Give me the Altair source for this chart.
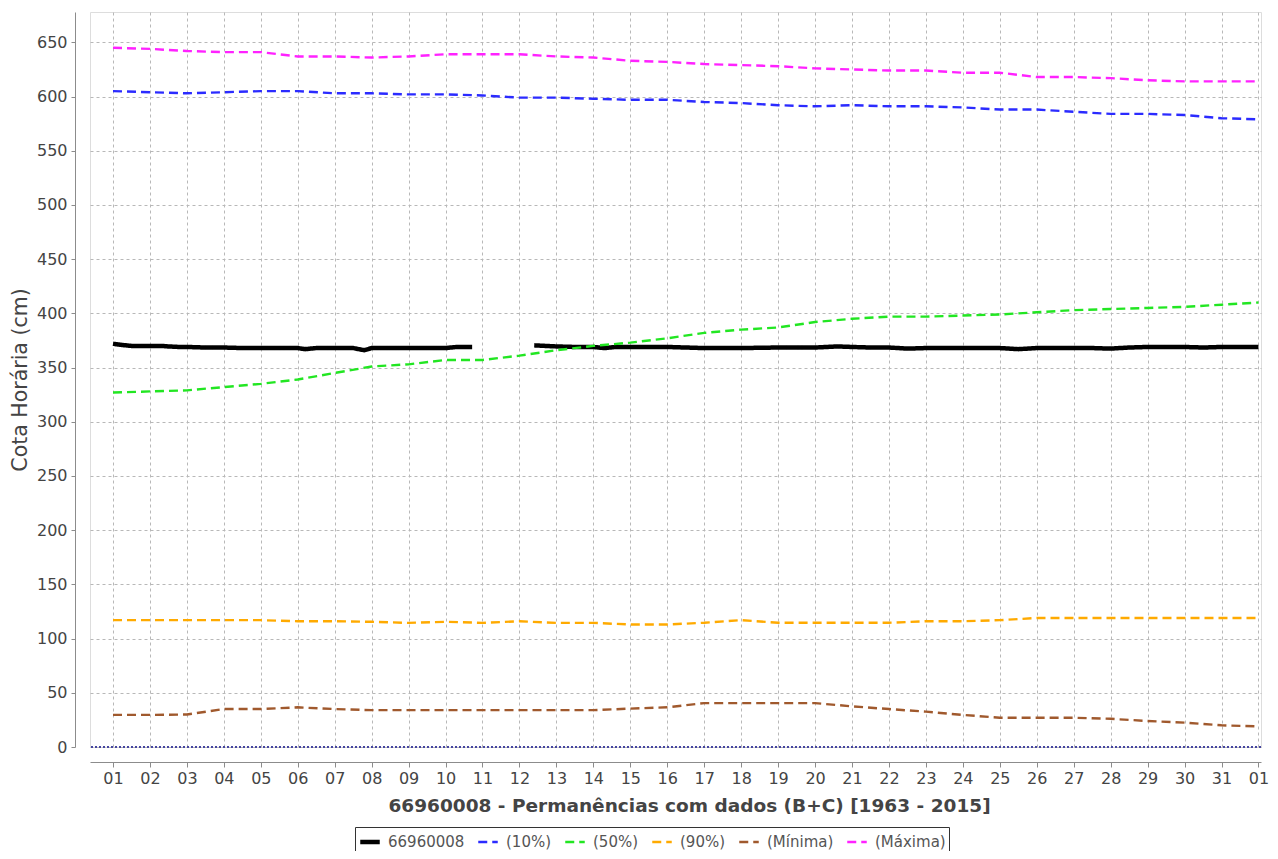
import json
import altair as alt
import pandas as pd

# ---------------- data ----------------
days = list(range(1, 33))
x_labels = ["01", "02", "03", "04", "05", "06", "07", "08", "09", "10",
            "11", "12", "13", "14", "15", "16", "17", "18", "19", "20",
            "21", "22", "23", "24", "25", "26", "27", "28", "29", "30",
            "31", "01"]

p10 = [605, 604, 603, 604, 605, 605, 603, 603, 602, 602, 601, 599, 599, 598, 597, 597,
       595, 594, 592, 591, 592, 591, 591, 590, 588, 588, 586, 584, 584, 583, 580, 579]
p50 = [327, 328, 329, 332, 335, 339, 345, 351, 353, 357, 357, 361, 366, 370, 373, 377,
       382, 385, 387, 392, 395, 397, 397, 398, 399, 401, 403, 404, 405, 406, 408, 410]
p90 = [117, 117, 117, 117, 117, 116, 116, 115.5, 114.5, 115.5, 114.5, 116, 114.5, 114.5, 113, 113,
       114.6, 117, 114.6, 114.6, 114.6, 114.6, 116, 116, 117, 119, 119, 119, 119, 119, 119, 119]
pmin = [29.6, 29.6, 30, 35, 35, 36.6, 35, 34, 34, 34, 34, 34, 34, 34, 35.4, 36.6,
        40.5, 40.5, 40.5, 40.5, 37.5, 35, 32.6, 29.6, 27, 27, 27, 26, 24, 22.5, 20, 19]
pmax = [645, 644, 642, 641, 641, 637, 637, 636, 637, 639, 639, 639, 637, 636, 633, 632,
        630, 629, 628, 626, 625, 624, 624, 622, 622, 618, 618, 617, 615, 614, 614, 614]

# observed station series (two pieces with a gap)
obs1_day = [1.0, 1.2, 1.5, 1.8, 2.0, 2.3, 2.5, 2.8, 3.0, 3.5, 4.0, 4.5, 5.0, 5.5, 6.0,
            6.2, 6.5, 7.0, 7.5, 7.8, 8.0, 8.5, 9.0, 9.5, 10.0, 10.3, 10.72]
obs1_val = [372, 371, 370, 370, 370, 370, 369.5, 369, 369, 368.5, 368.5, 368, 368, 368, 368,
            367, 368, 368, 368, 366, 368, 368, 368, 368, 368, 369, 369]
obs2_day = [12.4, 12.7, 13.0, 13.5, 14.0, 14.3, 14.6, 15.0, 15.5, 16.0, 16.5, 17.0, 18.0,
            19.0, 20.0, 20.6, 21.0, 21.5, 22.0, 22.5, 23.0, 24.0, 25.0, 25.5, 26.0, 27.0,
            27.5, 28.0, 28.5, 29.0, 29.5, 30.0, 30.5, 31.0, 31.5, 32.0]
obs2_val = [370.5, 370, 369.5, 369, 369, 368, 369, 369, 369, 369, 368.5, 368, 368,
            368.5, 368.5, 369.5, 369, 368.5, 368.5, 367.5, 368, 368, 368, 367, 368, 368,
            368, 367.5, 368.5, 369, 369, 369, 368.5, 369, 369, 369]

series_names = ["66960008", "(10%)", "(50%)", "(90%)", "(Mínima)", "(Máxima)"]
series_colors = ["#000000", "#2b2bff", "#22e622", "#ffaa00", "#a0592d", "#ff22ff"]

rows = []
for d, v in zip(obs1_day, obs1_val):
    rows.append({"series": "66960008", "seg": "a", "day": d, "value": v})
for d, v in zip(obs2_day, obs2_val):
    rows.append({"series": "66960008", "seg": "b", "day": d, "value": v})
for name, vals in zip(series_names[1:], [p10, p50, p90, pmin, pmax]):
    for d, v in zip(days, vals):
        rows.append({"series": name, "seg": "a", "day": d, "value": v})
df = pd.DataFrame(rows)

FONT = "DejaVu Sans"
label_expr = json.dumps(x_labels) + "[datum.value - 1]"

x_enc = alt.X(
    "day:Q",
    scale=alt.Scale(domain=[0.3776, 32.069], nice=False, zero=False),
    axis=alt.Axis(
        values=days, labelExpr=label_expr, offset=15, grid=True,
        gridDash=[3, 3], gridColor="#b8b8b8", domainColor="#8c8c8c",
        tickColor="#8c8c8c", tickSize=5, labelFontSize=16, labelColor="#444444",
        labelPadding=3, labelFont=FONT,
        title="66960008 - Permanências com dados (B+C) [1963 - 2015]",
        titleFontSize=18.5, titleFontWeight="bold", titleColor="#444444",
        titlePadding=10, titleFont=FONT, titleX=599,
    ),
)
y_enc = alt.Y(
    "value:Q",
    scale=alt.Scale(domain=[0, 678], nice=False),
    axis=alt.Axis(
        values=list(range(0, 700, 50)), offset=15, grid=True,
        gridDash=[3, 3], gridColor="#b8b8b8", domainColor="#8c8c8c",
        tickColor="#8c8c8c", tickSize=4, labelFontSize=16, labelColor="#444444",
        labelPadding=4, labelFont=FONT,
        title="Cota Horária (cm)", titleFontSize=20.5, titleFontWeight="normal",
        titleColor="#444444", titlePadding=6, titleFont=FONT,
    ),
)

legend = alt.Legend(
    orient="none", legendX=265, legendY=815, direction="horizontal", columns=6,
    title=None, strokeColor="#333333", fillColor="#ffffff", padding=3,
    symbolType="stroke", symbolSize=380, labelFontSize=15, labelColor="#555555",
    labelFont=FONT, columnPadding=8, labelOffset=6,
)

lines = alt.Chart(df).mark_line().encode(
    x=x_enc,
    y=y_enc,
    color=alt.Color("series:N", scale=alt.Scale(domain=series_names, range=series_colors),
                    legend=legend, sort=series_names),
    strokeDash=alt.StrokeDash("series:N",
                              scale=alt.Scale(domain=series_names,
                                              range=[[1, 0], [9, 5], [9, 5], [9, 5], [9, 5], [9, 5]]),
                              legend=legend, sort=series_names),
    strokeWidth=alt.StrokeWidth("series:N",
                                scale=alt.Scale(type="ordinal", domain=series_names,
                                                range=[4.5, 2.4, 2.4, 2.4, 2.4, 2.4]),
                                legend=legend, sort=series_names),
    detail="seg:N",
)

zero_rule = alt.Chart(df).mark_rule(color="#4646a0", strokeDash=[2, 2], strokeWidth=1.2).encode(
    y=alt.datum(0)
)

chart = alt.layer(lines, zero_rule).properties(
    width=1171, height=735,
    autosize=alt.AutoSizeParams(type="none"),
    padding={"left": 82, "top": 4, "right": 9, "bottom": 104},
    background="#ffffff",
).configure_view(
    fill="#f0f0f0", stroke="#8c8c8c", strokeWidth=1
).configure(font=FONT)

chart.save("out.html", embed_options={"renderer": "svg", "actions": False})
